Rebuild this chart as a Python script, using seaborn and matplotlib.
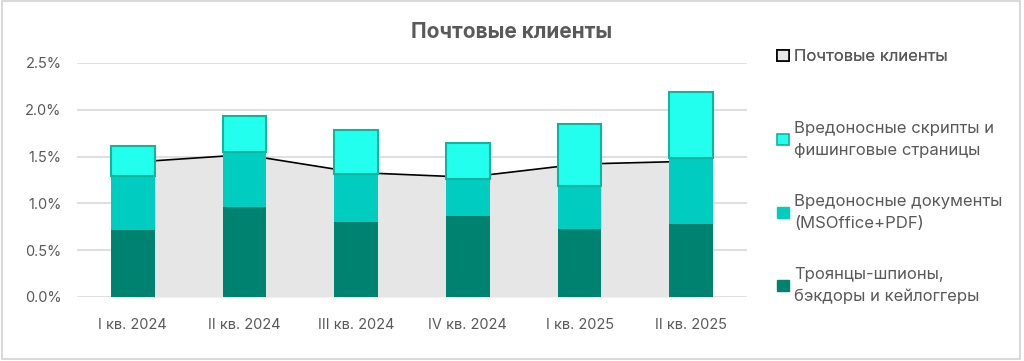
import matplotlib
matplotlib.use("Agg")
import matplotlib.pyplot as plt
import matplotlib.ticker as mticker
from matplotlib.patches import Patch, Rectangle
import numpy as np
import seaborn as sns

# ─── Data ────────────────────────────────────────────────────────────────────
quarters = ["I кв. 2024", "II кв. 2024", "III кв. 2024",
            "IV кв. 2024", "I кв. 2025", "II кв. 2025"]
trojans  = [0.72, 0.96, 0.80, 0.86, 0.73, 0.78]   # Трояны-шпионы, бэкдоры и кейлоггеры
docs     = [0.57, 0.59, 0.51, 0.40, 0.46, 0.71]   # Вредоносные документы
scripts  = [0.32, 0.38, 0.47, 0.38, 0.66, 0.70]   # Вредоносные скрипты и фишинг
mail     = [1.44, 1.52, 1.33, 1.28, 1.42, 1.45]   # Почтовые клиенты (area)

labels = ["Почтовые клиенты",
          "Вредоносные скрипты и\nфишинговые страницы",
          "Вредоносные документы\n(MSOffice+PDF)",
          "Троянцы-шпионы,\nбэкдоры и кейлоггеры"]

# ─── Style ───────────────────────────────────────────────────────────────────
DARK   = "#008270"
MID    = "#00CCBF"
LIGHT  = "#22FFEE"
EDGE   = "#14B39C"
AREA   = "#E6E6E6"
GRID   = "#D9D9D9"
TEXT   = "#595959"

sns.set_theme(style="white")
plt.rcParams["font.family"] = ["Inter", "DejaVu Sans"]

fig = plt.figure(figsize=(10.24, 3.61), dpi=100)
ax = fig.add_axes([0.0752, 0.1773, 0.6543, 0.6482])

x = np.arange(len(quarters))
ax.fill_between(x, mail, color=AREA, zorder=1, linewidth=0)
sns.lineplot(x=x, y=mail, color="black", lw=1.2, ax=ax, zorder=2)

bottom2 = np.array(trojans) + np.array(docs)
sns.barplot(x=quarters, y=trojans, color=DARK, width=0.39, ax=ax,
            saturation=1, zorder=3, linewidth=0)
sns.barplot(x=quarters, y=docs, bottom=trojans, color=MID, width=0.39, ax=ax,
            saturation=1, zorder=3, linewidth=0)
sns.barplot(x=quarters, y=scripts, bottom=bottom2, color=LIGHT, width=0.39, ax=ax,
            saturation=1, zorder=4, edgecolor=EDGE, linewidth=1.5)

ax.set_xlim(-0.5, 5.5)
ax.set_ylim(0, 2.5)
ax.set_yticks(np.arange(0, 2.51, 0.5))
ax.yaxis.set_major_formatter(mticker.FuncFormatter(lambda v, _: f"{v:.1f}%"))
ax.grid(axis="y", color=GRID, lw=1.2, zorder=0)
ax.set_axisbelow(True)
for s in ax.spines.values():
    s.set_visible(False)
ax.set_xlabel("")
ax.set_ylabel("")
ax.tick_params(axis="x", length=0, pad=15, labelsize=10.5, labelcolor=TEXT)
ax.tick_params(axis="y", length=0, pad=11, labelsize=10.5, labelcolor=TEXT)

fig.suptitle("Почтовые клиенты", x=0.5, y=0.94, fontsize=15,
             fontweight="bold", color=TEXT)

# ─── Legend (first entry set apart, as in the original) ──────────────────────
handles = [Patch(facecolor=AREA, edgecolor="black", linewidth=1.2),
           Patch(facecolor=LIGHT, edgecolor=EDGE, linewidth=1.2),
           Patch(facecolor=MID, edgecolor=MID),
           Patch(facecolor=DARK, edgecolor=DARK)]
leg_kw = dict(frameon=False, fontsize=12, labelcolor=TEXT, handlelength=0.7,
              handleheight=0.7, handletextpad=0.3, borderpad=0, borderaxespad=0)
leg1 = fig.legend(handles[:1], labels[:1], loc="center left",
                  bbox_to_anchor=(0.759, 1 - 56.7 / 361), **leg_kw)
leg2 = fig.legend(handles[1:], labels[1:], loc="upper left",
                  bbox_to_anchor=(0.759, 1 - 121 / 361), labelspacing=2.15, **leg_kw)
for t in leg2.get_texts():
    t.set_linespacing(1.58)
fig.add_artist(leg1)

fig.patches.append(Rectangle((0.002, 0.006), 0.994, 0.99, transform=fig.transFigure,
                             fill=False, edgecolor=GRID, linewidth=1.5))

plt.savefig("out.png", dpi=100)
